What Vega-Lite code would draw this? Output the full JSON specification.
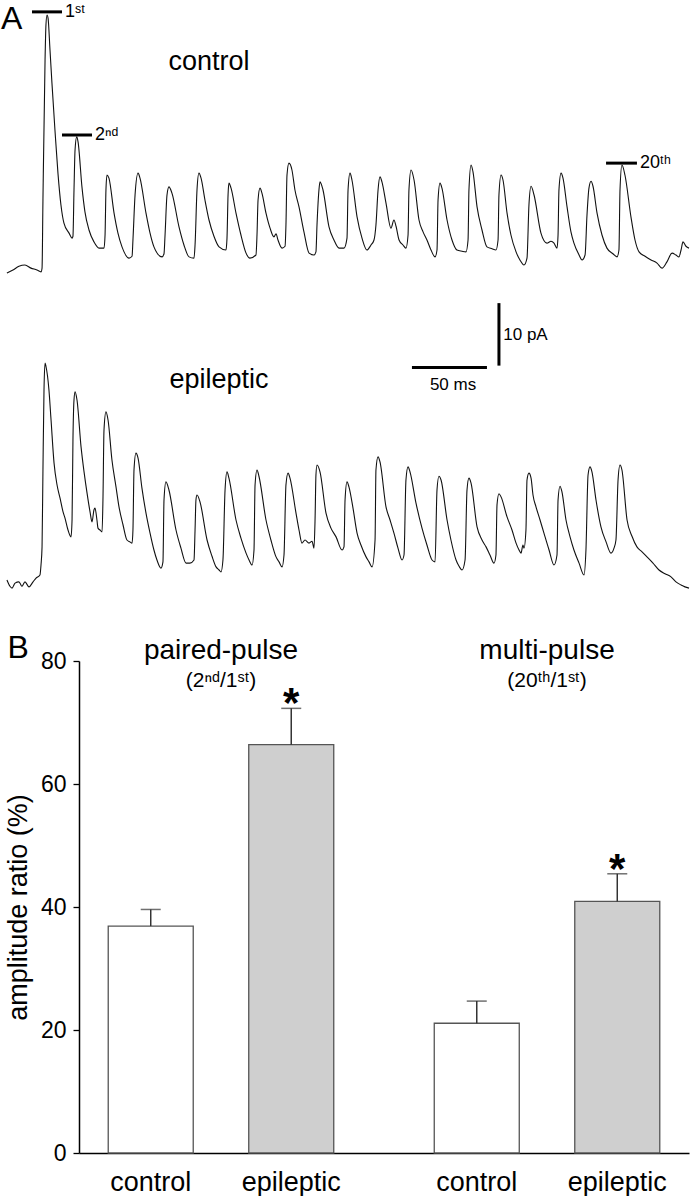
{
  "$schema": "https://vega.github.io/schema/vega-lite/v6.json",
  "padding": 0,
  "spacing": 12,
  "config": {
    "font": "Liberation Sans",
    "view": {"stroke": null},
    "axis": {"labelFont": "Liberation Sans", "titleFont": "Liberation Sans"},
    "title": {"font": "Liberation Sans"}
  },
  "datasets": {
    "control": [
      {"t":5.3,"v":56.3},{"t":9.3,"v":56.8},{"t":13.3,"v":57.4},{"t":17.3,"v":57.6},{"t":21.3,"v":57.1},{"t":25.3,"v":56.8},{"t":28,"v":56.5},{"t":28.7,"v":57.1},{"t":29.3,"v":68},{"t":30.7,"v":90.4},{"t":31.3,"v":96},{"t":32,"v":97.6},{"t":32.7,"v":97.1},{"t":34,"v":92},{"t":35.3,"v":86.7},{"t":37.3,"v":79.2},{"t":39.3,"v":72.3},{"t":41.3,"v":67.2},{"t":43.3,"v":64.3},{"t":46.7,"v":62.7},{"t":48.7,"v":61.9},{"t":49.3,"v":62.2},{"t":50,"v":69.6},{"t":50.7,"v":76},{"t":51.8,"v":78.1},{"t":52.7,"v":77.3},{"t":55.3,"v":70.1},{"t":57.3,"v":66.1},{"t":60,"v":63.2},{"t":63.3,"v":61.3},{"t":66.7,"v":60.3},{"t":70,"v":60.3},{"t":70.7,"v":62.4},{"t":71.3,"v":69.6},{"t":72,"v":72},{"t":73.3,"v":71.5},{"t":76.7,"v":65.9},{"t":79.3,"v":62.7},{"t":82,"v":60.5},{"t":86.7,"v":58.7},{"t":88.7,"v":59},{"t":89.3,"v":61.6},{"t":90.7,"v":68.8},{"t":92.7,"v":72.3},{"t":94,"v":71.5},{"t":98,"v":65.9},{"t":100.7,"v":62.7},{"t":103.3,"v":60.5},{"t":108.7,"v":58.9},{"t":110,"v":59.4},{"t":110.7,"v":62.4},{"t":112,"v":68.8},{"t":113.3,"v":70.1},{"t":115.3,"v":69.1},{"t":120,"v":63.7},{"t":123.3,"v":60.8},{"t":126.7,"v":58.9},{"t":130,"v":58.7},{"t":130.7,"v":60.8},{"t":132,"v":69.6},{"t":133.3,"v":72.3},{"t":134.7,"v":71.5},{"t":137.3,"v":68},{"t":140,"v":64.8},{"t":143.3,"v":62.2},{"t":146.7,"v":60.5},{"t":151.3,"v":60},{"t":152,"v":61.9},{"t":152.7,"v":68.8},{"t":153.3,"v":70.7},{"t":154.7,"v":69.9},{"t":158,"v":65.9},{"t":161.3,"v":62.4},{"t":164.7,"v":59.5},{"t":167.3,"v":58.7},{"t":171.3,"v":59.2},{"t":172,"v":62.4},{"t":172.7,"v":68},{"t":174,"v":69.9},{"t":175.3,"v":69.1},{"t":178,"v":65.9},{"t":180.7,"v":63.5},{"t":183.3,"v":62.1},{"t":184.7,"v":62.6},{"t":186,"v":61.6},{"t":188.7,"v":60.3},{"t":190.7,"v":60.6},{"t":191.3,"v":64},{"t":192,"v":72},{"t":193.3,"v":73.9},{"t":195.3,"v":72.8},{"t":197.3,"v":69.6},{"t":200,"v":66.9},{"t":203.3,"v":62.9},{"t":206.7,"v":59.5},{"t":210,"v":59.2},{"t":211.3,"v":59.7},{"t":212,"v":64},{"t":213.3,"v":69.6},{"t":214,"v":70.9},{"t":216,"v":69.6},{"t":220,"v":63.7},{"t":223.3,"v":61.6},{"t":226.7,"v":60.3},{"t":230,"v":60.3},{"t":232,"v":61.9},{"t":232.7,"v":69.6},{"t":234,"v":72.3},{"t":235.3,"v":71.2},{"t":238.7,"v":65.3},{"t":242,"v":61.9},{"t":245.3,"v":60},{"t":248,"v":60.8},{"t":250,"v":61.6},{"t":251.3,"v":64},{"t":252.7,"v":69.6},{"t":254,"v":71.7},{"t":255.3,"v":70.9},{"t":258,"v":67.5},{"t":261.3,"v":63.5},{"t":263.3,"v":64.8},{"t":264.7,"v":63.8},{"t":266.7,"v":61.6},{"t":269.3,"v":60.8},{"t":271.3,"v":60.3},{"t":272.7,"v":62.4},{"t":273.3,"v":69.6},{"t":274.7,"v":72.8},{"t":276.7,"v":71.2},{"t":280,"v":64.8},{"t":282.7,"v":62.9},{"t":285.3,"v":61.6},{"t":288,"v":60},{"t":290.7,"v":58.9},{"t":292,"v":60},{"t":292.7,"v":68},{"t":294,"v":70.7},{"t":295.3,"v":69.9},{"t":298.7,"v":64.8},{"t":302,"v":61.6},{"t":305.3,"v":60},{"t":308.7,"v":59.8},{"t":311.3,"v":59.7},{"t":312.7,"v":61.6},{"t":313.3,"v":69.6},{"t":314.7,"v":73.6},{"t":316,"v":72.5},{"t":318.7,"v":66.9},{"t":322,"v":63.2},{"t":325.3,"v":60.5},{"t":328.7,"v":60.2},{"t":331.3,"v":60},{"t":332.7,"v":61.6},{"t":333.3,"v":68.8},{"t":334.7,"v":72},{"t":336,"v":71.2},{"t":338.7,"v":65.9},{"t":341.3,"v":62.4},{"t":344.7,"v":59.7},{"t":347.3,"v":58.4},{"t":350,"v":57.6},{"t":352,"v":58.7},{"t":353.3,"v":67.2},{"t":354.7,"v":70.2},{"t":356.7,"v":68.8},{"t":361.3,"v":62.7},{"t":365.3,"v":61.1},{"t":368,"v":61.4},{"t":370,"v":61.1},{"t":372,"v":60.3},{"t":372.7,"v":62.4},{"t":373.3,"v":69.6},{"t":374.7,"v":72.3},{"t":376,"v":71.5},{"t":378.7,"v":66.9},{"t":381.3,"v":62.9},{"t":383.3,"v":61.1},{"t":386.7,"v":59.2},{"t":388.7,"v":58.4},{"t":390.7,"v":59.2},{"t":392,"v":65.6},{"t":393.3,"v":69.9},{"t":394.7,"v":71},{"t":396,"v":70.2},{"t":398.7,"v":65.9},{"t":402,"v":62.4},{"t":405.3,"v":60.3},{"t":409.3,"v":59.4},{"t":412,"v":58.9},{"t":413.3,"v":60},{"t":414,"v":69.6},{"t":415.3,"v":73.6},{"t":417.3,"v":72},{"t":421.3,"v":65.3},{"t":424,"v":61.6},{"t":426.7,"v":59.7},{"t":430.7,"v":59},{"t":434.7,"v":58.4},{"t":438.7,"v":57.9},{"t":442,"v":57.1},{"t":445.3,"v":58.1},{"t":448.7,"v":59.5},{"t":451.3,"v":59.2},{"t":453.3,"v":58.9},{"t":454.7,"v":60},{"t":456,"v":61.3},{"t":458,"v":60.6},{"t":460,"v":60.3}
    ],
    "epileptic": [
      {"t":5.3,"v":7.2},{"t":7.3,"v":6.2},{"t":8.7,"v":5.9},{"t":10.7,"v":6.7},{"t":13.3,"v":6.9},{"t":15.3,"v":6.2},{"t":17.3,"v":6.9},{"t":20,"v":6.1},{"t":22.7,"v":6.9},{"t":24.7,"v":7.5},{"t":27.3,"v":8},{"t":28,"v":9.6},{"t":28.7,"v":12.5},{"t":29.3,"v":24.8},{"t":30,"v":37.6},{"t":30.7,"v":41.9},{"t":31.3,"v":41.4},{"t":33.3,"v":37.6},{"t":34.7,"v":32.8},{"t":36.7,"v":25.9},{"t":38.7,"v":22.4},{"t":40.7,"v":20.3},{"t":42.7,"v":18.1},{"t":44,"v":17.1},{"t":46,"v":15.2},{"t":48,"v":14.1},{"t":48.7,"v":16.8},{"t":49.3,"v":29.6},{"t":50,"v":36},{"t":50.7,"v":37.3},{"t":52,"v":36},{"t":54.7,"v":28.5},{"t":56.7,"v":24.5},{"t":58.7,"v":21.1},{"t":60.7,"v":18.1},{"t":62,"v":16.5},{"t":63.3,"v":18.4},{"t":64,"v":18.7},{"t":65.3,"v":16.8},{"t":66,"v":15.5},{"t":67.3,"v":15.2},{"t":68.7,"v":14.9},{"t":69.3,"v":20},{"t":70,"v":31.2},{"t":71.3,"v":34.1},{"t":72.7,"v":32.8},{"t":75.3,"v":26.4},{"t":78,"v":22.1},{"t":80,"v":18.9},{"t":82.7,"v":16},{"t":85.3,"v":13.6},{"t":87.3,"v":13.3},{"t":88.7,"v":13.1},{"t":89.3,"v":15.2},{"t":90,"v":24.8},{"t":91.3,"v":27.5},{"t":92.7,"v":26.7},{"t":95.3,"v":21.9},{"t":98,"v":17.9},{"t":100.7,"v":14.7},{"t":103.3,"v":12},{"t":105.3,"v":10.4},{"t":108,"v":9.1},{"t":109.3,"v":10.1},{"t":110,"v":20},{"t":111.3,"v":22.9},{"t":113.3,"v":21.6},{"t":118,"v":15.2},{"t":121.3,"v":12.3},{"t":124.7,"v":9.9},{"t":127.3,"v":9.9},{"t":130,"v":10.4},{"t":130.7,"v":15.2},{"t":131.3,"v":20},{"t":132,"v":20.8},{"t":134,"v":19.7},{"t":138.7,"v":13.6},{"t":142,"v":11},{"t":144.7,"v":9.3},{"t":146.7,"v":8.8},{"t":148,"v":8.5},{"t":149.3,"v":10.4},{"t":150.7,"v":21.6},{"t":152,"v":24.5},{"t":153.3,"v":23.5},{"t":158,"v":16.8},{"t":161.3,"v":13.9},{"t":164.7,"v":11.5},{"t":166.7,"v":10.4},{"t":168.7,"v":9.6},{"t":170,"v":12},{"t":170.7,"v":22.4},{"t":172,"v":24.8},{"t":173.3,"v":23.8},{"t":178,"v":16.8},{"t":181.3,"v":13.6},{"t":184.7,"v":10.9},{"t":186.7,"v":10.1},{"t":188.7,"v":9.3},{"t":190,"v":11.2},{"t":191.3,"v":22.4},{"t":192.7,"v":24.3},{"t":194,"v":23.5},{"t":198,"v":17.9},{"t":200,"v":15.2},{"t":202,"v":13.1},{"t":204,"v":13.6},{"t":206.7,"v":13.1},{"t":208.7,"v":13.4},{"t":210,"v":12.3},{"t":210.7,"v":16.8},{"t":211.3,"v":24},{"t":212,"v":25.6},{"t":214,"v":24.5},{"t":218,"v":17.9},{"t":221.3,"v":15.5},{"t":224.7,"v":14.1},{"t":228.7,"v":12},{"t":230,"v":12.5},{"t":230.7,"v":20},{"t":232,"v":22.9},{"t":233.3,"v":22.1},{"t":236,"v":18.7},{"t":238.7,"v":14.7},{"t":241.3,"v":12.8},{"t":244.7,"v":10.9},{"t":246.7,"v":10.1},{"t":248.7,"v":9.3},{"t":250.7,"v":13.6},{"t":251.3,"v":24.8},{"t":252.7,"v":26.9},{"t":254,"v":26.1},{"t":258,"v":18.9},{"t":260.7,"v":16.8},{"t":263.3,"v":14.7},{"t":266,"v":12.3},{"t":268.7,"v":10.4},{"t":270,"v":11.2},{"t":271.3,"v":23.2},{"t":272.7,"v":25.3},{"t":274,"v":24.5},{"t":278,"v":19.5},{"t":282,"v":15.5},{"t":285.3,"v":12.8},{"t":288.7,"v":10.4},{"t":290.7,"v":10.1},{"t":292,"v":21.6},{"t":293.3,"v":23.8},{"t":294.7,"v":23.2},{"t":298.7,"v":16.8},{"t":301.3,"v":13.6},{"t":304.7,"v":10.4},{"t":306.7,"v":9.4},{"t":308.7,"v":8.8},{"t":310.7,"v":10.4},{"t":312,"v":21.6},{"t":313.3,"v":23.5},{"t":314.7,"v":22.7},{"t":318.7,"v":15.7},{"t":322,"v":13.6},{"t":324.7,"v":12.5},{"t":327.3,"v":11.2},{"t":330,"v":9.9},{"t":331.3,"v":11.2},{"t":332,"v":19.2},{"t":333.3,"v":21},{"t":334.7,"v":20.5},{"t":338.7,"v":17.3},{"t":342,"v":15.2},{"t":344.7,"v":13.1},{"t":346.7,"v":12},{"t":348,"v":11.5},{"t":349.3,"v":12.8},{"t":350,"v":12.3},{"t":351.3,"v":15.2},{"t":352,"v":23.2},{"t":353.3,"v":24.3},{"t":354.7,"v":23.5},{"t":356,"v":20.8},{"t":358,"v":18.9},{"t":360.7,"v":16.8},{"t":363.3,"v":14.7},{"t":366.7,"v":12},{"t":370,"v":9.6},{"t":372,"v":11.2},{"t":372.7,"v":20},{"t":374,"v":22.2},{"t":375.3,"v":21.3},{"t":378,"v":16.8},{"t":380.7,"v":14.1},{"t":383.3,"v":12},{"t":386.7,"v":9.9},{"t":390,"v":8},{"t":391.3,"v":12},{"t":392.7,"v":24},{"t":394,"v":25.3},{"t":395.3,"v":24.5},{"t":398,"v":20},{"t":401.3,"v":15.7},{"t":404.7,"v":13.3},{"t":408,"v":11.5},{"t":410,"v":12.3},{"t":411.3,"v":13.6},{"t":412.7,"v":23.2},{"t":414,"v":25.6},{"t":415.3,"v":24.8},{"t":418.7,"v":16.8},{"t":422,"v":14.2},{"t":425.3,"v":12.5},{"t":428.7,"v":11.7},{"t":432,"v":10.9},{"t":436,"v":9.9},{"t":440,"v":8.8},{"t":444,"v":8.2},{"t":448,"v":7.7},{"t":451.3,"v":6.9},{"t":454.7,"v":6.4},{"t":457.3,"v":6.1},{"t":460,"v":5.9}
    ],
    "peaks": [
      {"label":"1ˢᵗ","t1":22,"t2":42,"v":98.1},
      {"label":"2ⁿᵈ","t1":42,"t2":62,"v":78.4},
      {"label":"20ᵗʰ","t1":404.7,"t2":425.3,"v":73.9}
    ],
    "scalebars": [
      {"t1":275.3,"t2":325.3,"v1":41.2,"v2":41.2},
      {"t1":333.3,"t2":333.3,"v1":41.5,"v2":51.5}
    ],
    "scalelabels": [
      {"text":"10 pA","t":351,"v":46.4},
      {"text":"50 ms","t":302.7,"v":38.4}
    ],
    "conditions": [
      {"text":"control","t":140,"v":90.1},
      {"text":"epileptic","t":146.7,"v":39.2}
    ],
    "panel": [
      {"text":"A","t":1.3,"v":96.9}
    ],
    "bars": [
      {"protocol":"paired-pulse","group":"control","mean":36.9,"upper":39.6},
      {"protocol":"paired-pulse","group":"epileptic","mean":66.4,"upper":72.3},
      {"protocol":"multi-pulse","group":"control","mean":21.1,"upper":24.7},
      {"protocol":"multi-pulse","group":"epileptic","mean":40.9,"upper":45.4}
    ],
    "protocols": [
      {"protocol":"paired-pulse","title":"paired-pulse","sub":"(2ⁿᵈ/1ˢᵗ)"},
      {"protocol":"multi-pulse","title":"multi-pulse","sub":"(20ᵗʰ/1ˢᵗ)"}
    ]
  },
  "vconcat": [
    {
      "width": 610,
      "height": 620,
      "layer": [
        {
          "data": {"name": "control"},
          "mark": {"type": "line", "color": "#111", "strokeWidth": 1.1, "interpolate": "monotone"},
          "encoding": {
            "x": {"field": "t", "type": "quantitative", "scale": {"domain": [53.333, 460], "nice": false, "zero": false}, "axis": null},
            "y": {"field": "v", "type": "quantitative", "scale": {"domain": [0.8, 100], "nice": false, "zero": false}, "axis": null}
          }
        },
        {
          "data": {"name": "epileptic"},
          "mark": {"type": "line", "color": "#111", "strokeWidth": 1.1, "interpolate": "monotone"},
          "encoding": {
            "x": {"field": "t", "type": "quantitative"},
            "y": {"field": "v", "type": "quantitative"}
          }
        },
        {
          "data": {"name": "peaks"},
          "mark": {"type": "rule", "color": "black", "strokeWidth": 3},
          "encoding": {
            "x": {"field": "t1", "type": "quantitative"},
            "x2": {"field": "t2"},
            "y": {"field": "v", "type": "quantitative"}
          }
        },
        {
          "data": {"name": "peaks"},
          "mark": {"type": "text", "align": "left", "baseline": "middle", "dx": 3, "fontSize": 18, "color": "black"},
          "encoding": {
            "x": {"field": "t2", "type": "quantitative"},
            "y": {"field": "v", "type": "quantitative"},
            "text": {"field": "label"}
          }
        },
        {
          "data": {"name": "scalebars"},
          "mark": {"type": "rule", "color": "black", "strokeWidth": 3},
          "encoding": {
            "x": {"field": "t1", "type": "quantitative"},
            "x2": {"field": "t2"},
            "y": {"field": "v1", "type": "quantitative"},
            "y2": {"field": "v2"}
          }
        },
        {
          "data": {"name": "scalelabels"},
          "mark": {"type": "text", "align": "center", "baseline": "middle", "fontSize": 17, "color": "black"},
          "encoding": {
            "x": {"field": "t", "type": "quantitative"},
            "y": {"field": "v", "type": "quantitative"},
            "text": {"field": "text"}
          }
        },
        {
          "data": {"name": "conditions"},
          "mark": {"type": "text", "align": "center", "baseline": "middle", "fontSize": 27, "color": "black"},
          "encoding": {
            "x": {"field": "t", "type": "quantitative"},
            "y": {"field": "v", "type": "quantitative"},
            "text": {"field": "text"}
          }
        },
        {
          "data": {"name": "panel"},
          "mark": {"type": "text", "align": "left", "baseline": "middle", "fontSize": 32, "color": "black"},
          "encoding": {
            "x": {"field": "t", "type": "quantitative"},
            "y": {"field": "v", "type": "quantitative"},
            "text": {"field": "text"}
          }
        }
      ]
    },
    {
      "width": 610,
      "height": 492,
      "title": {"text": "B", "anchor": "start", "frame": "bounds", "fontSize": 32, "fontWeight": "normal", "offset": -28, "dx": 3, "color": "black"},
      "layer": [
        {
          "data": {"name": "bars"},
          "mark": {"type": "bar", "stroke": "#555", "strokeWidth": 1.3},
          "encoding": {
            "x": {"field": "protocol", "type": "nominal", "sort": ["paired-pulse", "multi-pulse"], "scale": {"paddingInner": 0.129, "paddingOuter": 0}, "axis": {"labels": false, "ticks": false, "title": null, "domainColor": "black", "domainWidth": 1.5}},
            "xOffset": {"field": "group", "type": "nominal", "sort": ["control", "epileptic"], "scale": {"paddingInner": 0.395, "paddingOuter": 0.208}},
            "y": {"field": "mean", "type": "quantitative", "scale": {"domain": [0, 80], "nice": false}, "axis": {"title": "amplitude ratio (%)", "titleFontSize": 27, "titleFontWeight": "normal", "titleColor": "black", "titlePadding": 8, "values": [0, 20, 40, 60, 80], "labelFontSize": 23, "labelColor": "black", "labelPadding": 7, "tickSize": 6, "tickColor": "black", "tickWidth": 1.3, "domainColor": "black", "domainWidth": 1.5, "grid": false}},
            "fill": {"field": "group", "type": "nominal", "scale": {"domain": ["control", "epileptic"], "range": ["#ffffff", "#cfcfcf"]}, "legend": null}
          }
        },
        {
          "data": {"name": "bars"},
          "mark": {"type": "rule", "color": "#333", "strokeWidth": 1.5},
          "encoding": {
            "x": {"field": "protocol", "type": "nominal", "sort": ["paired-pulse", "multi-pulse"]},
            "xOffset": {"field": "group", "type": "nominal", "sort": ["control", "epileptic"]},
            "y": {"field": "mean", "type": "quantitative"},
            "y2": {"field": "upper"}
          }
        },
        {
          "data": {"name": "bars"},
          "mark": {"type": "tick", "orient": "horizontal", "color": "#333", "size": 20, "thickness": 1.5},
          "encoding": {
            "x": {"field": "protocol", "type": "nominal", "sort": ["paired-pulse", "multi-pulse"]},
            "xOffset": {"field": "group", "type": "nominal", "sort": ["control", "epileptic"]},
            "y": {"field": "upper", "type": "quantitative"}
          }
        },
        {
          "data": {"name": "bars"},
          "transform": [{"filter": "datum.group === 'epileptic'"}],
          "mark": {"type": "text", "text": "*", "fontSize": 42, "fontWeight": "bold", "baseline": "alphabetic", "dy": 9, "color": "black"},
          "encoding": {
            "x": {"field": "protocol", "type": "nominal", "sort": ["paired-pulse", "multi-pulse"]},
            "xOffset": {"field": "group", "type": "nominal", "sort": ["control", "epileptic"]},
            "y": {"field": "upper", "type": "quantitative"}
          }
        },
        {
          "data": {"name": "bars"},
          "mark": {"type": "text", "fontSize": 27, "baseline": "alphabetic", "dy": 38, "color": "black"},
          "encoding": {
            "x": {"field": "protocol", "type": "nominal", "sort": ["paired-pulse", "multi-pulse"]},
            "xOffset": {"field": "group", "type": "nominal", "sort": ["control", "epileptic"]},
            "y": {"datum": 0, "type": "quantitative"},
            "text": {"field": "group"}
          }
        },
        {
          "data": {"name": "protocols"},
          "mark": {"type": "text", "fontSize": 28, "baseline": "alphabetic", "dy": -2, "color": "black"},
          "encoding": {
            "x": {"field": "protocol", "type": "nominal", "sort": ["paired-pulse", "multi-pulse"]},
            "y": {"datum": 80, "type": "quantitative"},
            "text": {"field": "title"}
          }
        },
        {
          "data": {"name": "protocols"},
          "mark": {"type": "text", "fontSize": 21, "baseline": "alphabetic", "dy": 26, "color": "black"},
          "encoding": {
            "x": {"field": "protocol", "type": "nominal", "sort": ["paired-pulse", "multi-pulse"]},
            "y": {"datum": 80, "type": "quantitative"},
            "text": {"field": "sub"}
          }
        }
      ]
    }
  ]
}
